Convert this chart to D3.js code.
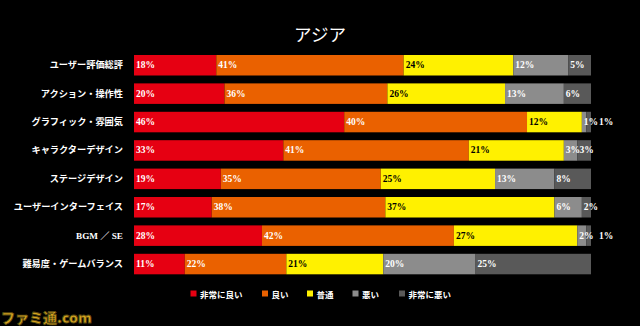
<!DOCTYPE html>
<html><head><meta charset="utf-8">
<script src="https://cdn.jsdelivr.net/npm/d3@7"></script>
<style>html,body{margin:0;padding:0;background:#000;}svg{display:block;}</style>
</head><body>
<script>
const categories = ["ユーザー評価総評","アクション・操作性","グラフィック・雰囲気","キャラクターデザイン","ステージデザイン","ユーザーインターフェイス","BGM ／ SE","難易度・ゲームバランス"];
const seriesNames = ["非常に良い","良い","普通","悪い","非常に悪い"];
const veryGood = [18,20,46,33,19,17,28,11];
const good     = [41,36,40,41,35,38,42,22];
const normal   = [24,26,12,21,25,37,27,21];
const bad      = [12,13,1,3,13,6,2,20];
const veryBad  = [5,6,1,3,8,2,1,25];
const colors = ["#e60012","#ea6100","#fff100","#8c8c8c","#595959"];
const labelColors = ["#fff","#fff","#000","#fff","#fff"];
const title = "アジア";

const W = 640, H = 326;
const svg = d3.select("body").append("svg").attr("width", W).attr("height", H);
svg.append("rect").attr("width", W).attr("height", H).attr("fill", "#000");

const rows = categories.map((c, i) => ({
  cat: c, "非常に良い": veryGood[i], "良い": good[i], "普通": normal[i], "悪い": bad[i], "非常に悪い": veryBad[i]
}));
const stack = d3.stack().keys(seriesNames).offset(d3.stackOffsetExpand);
const series = stack(rows);

const x = d3.scaleLinear().domain([0, 1]).range([134, 591]);
const y = d3.scaleBand().domain(categories).range([47.1, 282.2]).padding(0.278);

const serif = "'Liberation Serif','DejaVu Serif','Noto Sans CJK JP',serif";
const jp = "'Noto Sans CJK JP','Noto Sans',sans-serif";

svg.append("text").attr("x", 320).attr("y", 33).attr("text-anchor", "middle")
  .attr("dominant-baseline", "central").attr("fill", "#fff")
  .style("font-family", jp).style("font-size", "17.5px").text(title);

const g = svg.append("g");
series.forEach((s, si) => {
  g.append("g").selectAll("rect").data(s).join("rect")
    .attr("x", d => x(d[0])).attr("width", d => x(d[1]) - x(d[0]))
    .attr("y", d => y(d.data.cat)).attr("height", y.bandwidth())
    .attr("fill", colors[si]);
});
series.forEach((s, si) => {
  g.append("g").selectAll("text").data(s).join("text")
    .attr("x", d => {
      const v = d.data[s.key];
      if (si === seriesNames.length - 1 && v <= 1) return x(1) + 8;
      return x(d[0]) + 2;
    })
    .attr("y", d => y(d.data.cat) + y.bandwidth() / 2)
    .attr("dominant-baseline", "central")
    .attr("fill", d => (si === seriesNames.length - 1 && d.data[s.key] <= 1) ? "#fff" : labelColors[si])
    .style("font-family", serif).style("font-size", "9.5px").style("font-weight", "bold")
    .text(d => d.data[s.key] + "%");
});

// category axis
const yAxis = d3.axisLeft(y).tickSize(0).tickPadding(0);
const ax = svg.append("g").attr("transform", "translate(123,0)").call(yAxis);
ax.select(".domain").remove();
ax.selectAll("text").attr("fill", "#fff").style("font-family", serif)
  .style("font-size", "9.2px").style("font-weight", "bold");

// legend
const legendX = [190.5, 262, 307, 352.5, 399];
const lg = svg.append("g");
seriesNames.forEach((n, i) => {
  lg.append("rect").attr("x", legendX[i]).attr("y", 290.5).attr("width", 6).attr("height", 6)
    .attr("fill", colors[i]);
  lg.append("text").attr("x", legendX[i] + 9.5).attr("y", 293.5).attr("dominant-baseline", "central")
    .attr("fill", "#fff").style("font-family", jp).style("font-size", "8.5px").style("font-weight", "bold")
    .text(n);
});

// watermark
svg.append("text").attr("x", 1).attr("y", 323).attr("fill", "#d6a51f")
  .attr("stroke", "#5a4a10").attr("stroke-width", 0.8)
  .style("font-family", jp).style("font-size", "14px").style("font-weight", "900")
  .text("ファミ通.com");
</script>
</body></html>
